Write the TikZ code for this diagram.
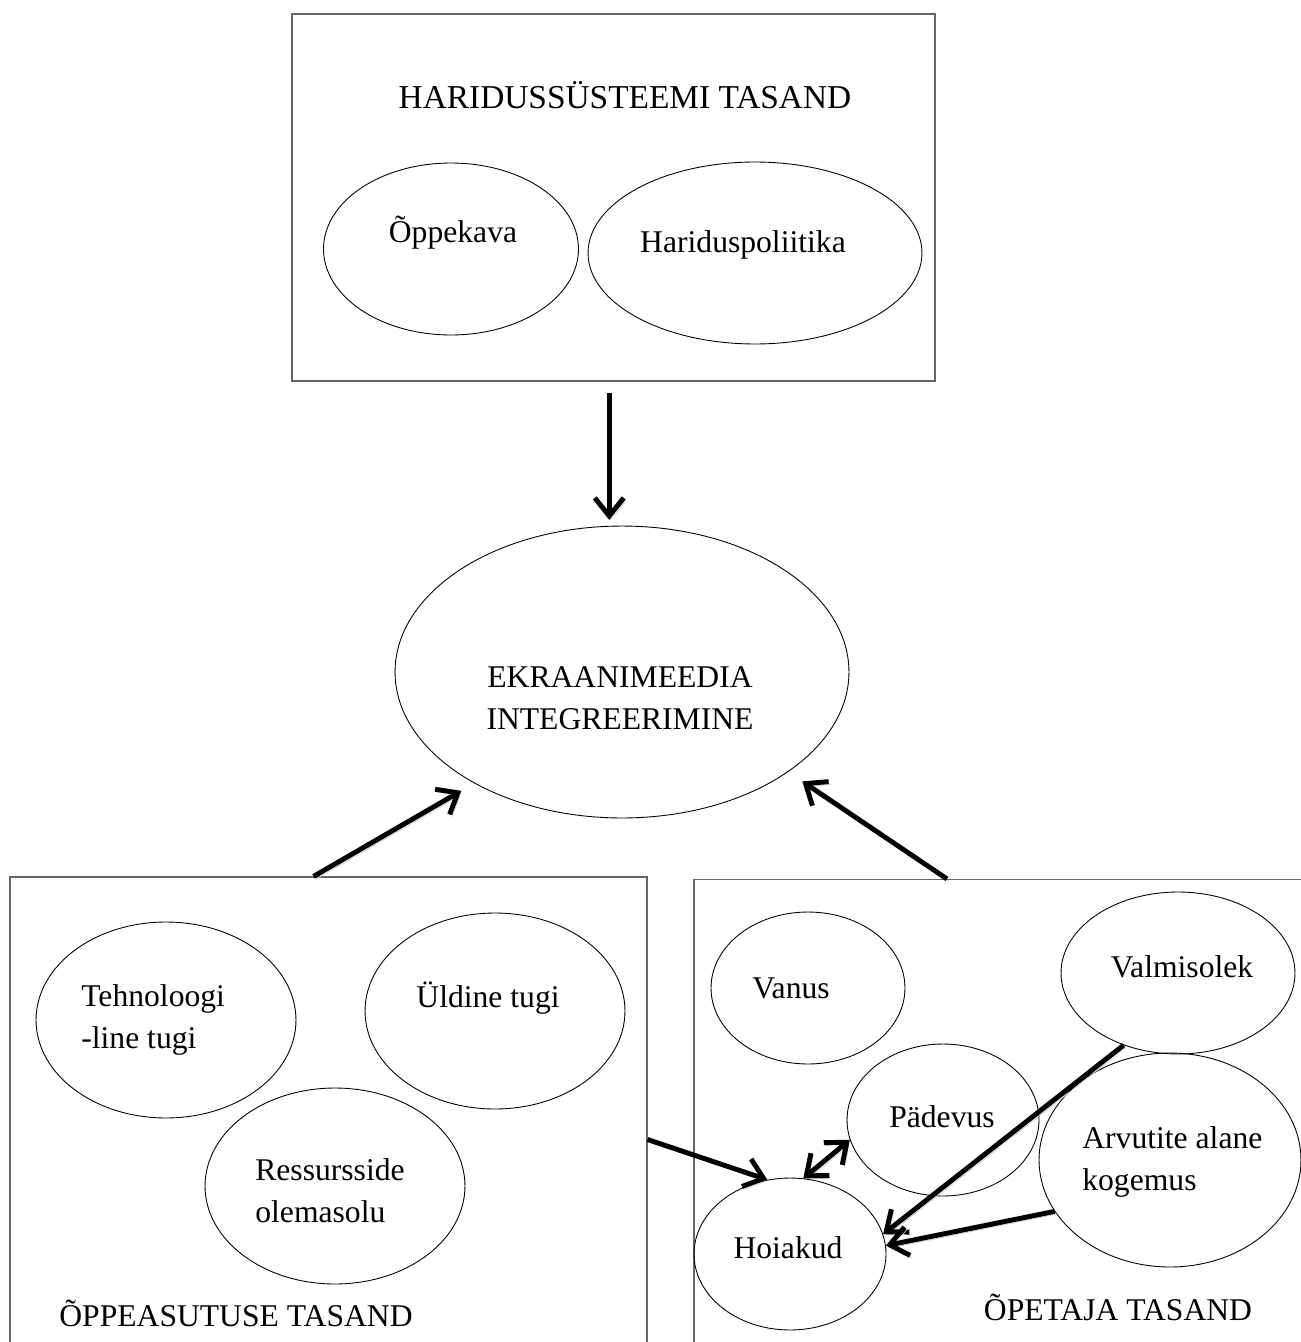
\documentclass[tikz,border=0pt]{standalone}
\usepackage{fontspec}
\setmainfont{Liberation Serif}
\usetikzlibrary{shapes.geometric,arrows.meta}

\tikzset{
  box/.style={draw=black!60, line width=0.7pt, inner sep=0pt},
  oval/.style={ellipse, draw, line width=0.5pt, inner sep=0pt},
  txt/.style={font=\fontsize{18}{24}\selectfont, inner sep=0pt},
  shade/.style={preaction={draw=black!20, transform canvas={xshift=1.2pt,yshift=-1.6pt}}},
  arr/.style={shade, line width=2.8pt, -{Straight Barb[length=0.36cm,width=0.58cm]}},
  darr/.style={shade, line width=2.8pt, {Straight Barb[length=0.36cm,width=0.58cm]}-{Straight Barb[length=0.36cm,width=0.58cm]}},
}

\begin{document}
\begin{tikzpicture}[x=0.02cm, y=-0.02cm]
		\useasboundingbox (0,0) rectangle (1301,1342);
		\begin{scope}
			\clip (0,0) rectangle (1301,1342);

			% haridussysteemi tasand
			\node[box, minimum width=12.86cm, minimum height=7.34cm] (sys) at (613.5,197.5) {};
			\node[txt, font=\fontsize{19}{24}\selectfont] (sys-t) at (625,95) {HARIDUSSÜSTEEMI TASAND};
			\node[oval, minimum width=5.1cm, minimum height=3.44cm] (oppe) at (451,249) {};
			\node[txt] (oppe-t) at (453,233) {Õppekava};
			\node[oval, minimum width=6.68cm, minimum height=3.64cm] (poli) at (755,253) {};
			\node[txt] (poli-t) at (743,245) {Hariduspoliitika};

			% keskel
			\node[oval, minimum width=9.08cm, minimum height=5.84cm] (ekr) at (622,672) {};
			\node[txt, align=center] (ekr-t) at (620,698) {EKRAANIMEEDIA\\INTEGREERIMINE};

			% oppeasutuse tasand
			\node[box, minimum width=12.74cm, minimum height=10.9cm] (lbox) at (328.5,1149.5) {};
			\node[oval, minimum width=5.2cm, minimum height=3.92cm] (tehn) at (166,1020) {};
			\node[txt, align=left, anchor=west] (tehn-t) at (81,1020) {Tehnoloogi\\-line tugi};
			\node[oval, minimum width=5.2cm, minimum height=3.92cm] (yld) at (495,1011) {};
			\node[txt] (yld-t) at (488,998) {Üldine tugi};
			\node[oval, minimum width=5.2cm, minimum height=3.92cm] (ress) at (335,1186) {};
			\node[txt, align=left, anchor=west] (ress-t) at (255,1191) {Ressursside\\olemasolu};
			\node[txt] (lbox-t) at (236,1313) {ÕPPEASUTUSE TASAND};

			% opetaja tasand
			\node[box, minimum width=12.92cm, minimum height=10.9cm] (rbox) at (1017,1152) {};
			\node[oval, minimum width=3.88cm, minimum height=3.04cm] (vanus) at (808,988) {};
			\node[txt] (vanus-t) at (791,988) {Vanus};
			\node[oval, minimum width=4.68cm, minimum height=3.24cm] (valm) at (1178,973) {};
			\node[txt] (valm-t) at (1182,967) {Valmisolek};
			\node[oval, minimum width=3.84cm, minimum height=3.04cm] (pade) at (943,1120) {};
			\node[txt] (pade-t) at (942,1117) {Pädevus};
			\node[oval, minimum width=5.24cm, minimum height=4.28cm] (arvu) at (1170,1160) {};
			\node[txt, align=left, anchor=west] (arvu-t) at (1082,1162) {Arvutite alane\\kogemus};
			\node[oval, minimum width=3.84cm, minimum height=3.04cm] (hoia) at (790,1254) {};
			\node[txt] (hoia-t) at (788,1248) {Hoiakud};
			\node[txt] (rbox-t) at (1118,1307) {ÕPETAJA TASAND};

			\draw[arr, shorten <=0.22cm, shorten >=0.12cm] (sys.south -| ekr.95) -- (ekr.95);
			\draw[arr, shorten >=0.3cm] ([xshift=-0.3cm]lbox.north) -- (ekr.217);
			\draw[arr, shorten >=0.34cm] ([xshift=-1.4cm]rbox.north) -- (ekr.329);
			\draw[arr] ([yshift=0.2cm]lbox.east) -- (hoia.107);
			\draw[darr] (hoia.80) -- (pade.192);
			\draw[arr] (valm.233) -- (hoia.12);
			\draw[arr] (arvu.204) -- (hoia.5);
		\end{scope}
		\end{tikzpicture}
\end{document}
